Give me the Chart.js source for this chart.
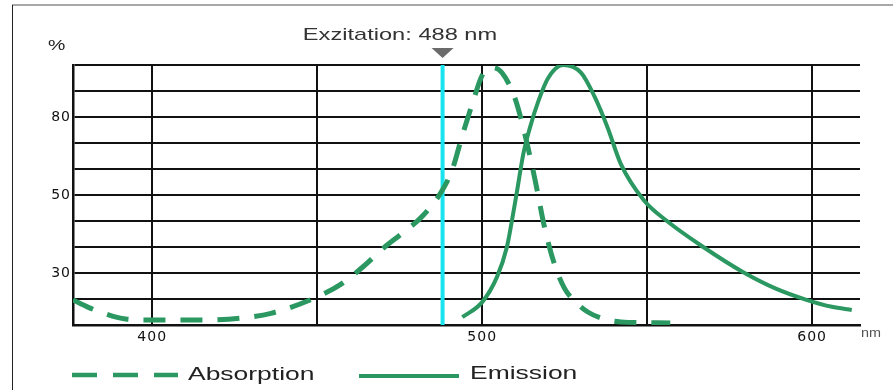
<!DOCTYPE html>
<html lang="en">
<head>
<meta charset="UTF-8">
<title>Absorption / Emission</title>
<script src="https://cdn.jsdelivr.net/npm/chart.js"></script>
<style>
    html, body { margin: 0; padding: 0; background: #fff; }
    #wrap { width: 893px; height: 390px; }
</style>
</head>
<body>
<div id="wrap"><canvas id="spectrum"></canvas></div>
<script>
    // values (nm, %)
    const absorptionNm  = [376, 383, 392, 400, 415, 427, 436, 450, 457, 464, 470, 476, 482, 488, 491, 494, 497, 500, 503, 506, 510, 513, 516, 519, 522, 525, 528, 532, 537, 542, 557];
    const absorptionPct = [9.6, 5.6, 2.3, 1.9, 1.9, 2.7, 4.5, 10.8, 15.5, 22.5, 29.5, 35.5, 42, 52, 60, 73, 85, 96, 99, 97, 87, 73, 56, 37, 23, 14, 9.2, 5, 2.3, 1.2, 0.8];
    const emissionNm    = [494, 500, 504.5, 507.5, 509, 510.5, 512.5, 514.5, 517, 520, 524.5, 530, 534, 538, 542, 549, 556, 567, 579, 589, 598.5, 606, 612];
    const emissionPct   = [3, 8.8, 18.5, 30, 40, 51, 66, 76, 86, 95, 100, 97, 88, 76, 62, 48, 40, 30, 20.4, 14, 9.6, 7, 5.8];
    const excitationNm = 488;

    const xGridValues = [400, 450, 500, 550, 600];
    const xTickLabels = [400, 500, 600];
    const yTickValues = [20, 50, 80];
    const yTickText   = ['30', '50', '80'];

    const GREEN = '#2a9860';
    const FONT = "'Liberation Sans', Arial, sans-serif";
    const TICK_FONT = "'DejaVu Sans', sans-serif";

    const toPoints = (xs, ys) => xs.map((x, i) => ({ x: x, y: ys[i] }));

    // the source picture is stretched sideways, so its text is too
    function wideText(ctx, text, x, y, align, sx) {
        ctx.save();
        ctx.translate(x, y);
        ctx.scale(sx, 1);
        ctx.textAlign = align;
        ctx.fillText(text, 0, 0);
        ctx.restore();
    }

    const decorations = {
        id: 'decorations',
        beforeDraw(chart) {
            const ctx = chart.ctx;
            ctx.save();
            ctx.fillStyle = '#fff';
            ctx.fillRect(0, 0, chart.width, chart.height);
            ctx.strokeStyle = '#a8a8a8';
            ctx.lineWidth = 2;
            ctx.beginPath();
            ctx.moveTo(12, 5);
            ctx.lineTo(chart.width, 5);
            ctx.stroke();
            ctx.strokeStyle = '#222';
            ctx.lineWidth = 1;
            ctx.beginPath();
            ctx.moveTo(12.5, 5);
            ctx.lineTo(12.5, chart.height);
            ctx.stroke();
            ctx.restore();
            ctx.letterSpacing = '1px';
        },
        afterDraw(chart) {
            const ctx = chart.ctx;
            const xs = chart.scales.x;
            const area = chart.chartArea;
            ctx.save();
            ctx.letterSpacing = '0px';
            ctx.textBaseline = 'middle';

            ctx.fillStyle = '#333';
            ctx.font = '17px ' + FONT;
            wideText(ctx, 'Exzitation: 488 nm', 400, 35, 'center', 1.39);

            const ex = xs.getPixelForValue(excitationNm);
            ctx.fillStyle = '#6b6b6b';
            ctx.beginPath();
            ctx.moveTo(ex - 11, 48);
            ctx.lineTo(ex + 11, 48);
            ctx.lineTo(ex, 58);
            ctx.closePath();
            ctx.fill();

            ctx.fillStyle = '#222';
            ctx.font = '15px ' + FONT;
            wideText(ctx, '%', 48, 46, 'left', 1.3);

            ctx.fillStyle = '#555';
            ctx.font = '12px ' + FONT;
            wideText(ctx, 'nm', area.right + 1, 334, 'left', 1.2);

            // legend
            const ly = 375;
            ctx.strokeStyle = GREEN;
            ctx.lineWidth = 4.5;
            ctx.setLineDash([25, 16]);
            ctx.beginPath();
            ctx.moveTo(72, ly);
            ctx.lineTo(178, ly);
            ctx.stroke();
            ctx.setLineDash([]);
            ctx.lineWidth = 4;
            ctx.beginPath();
            ctx.moveTo(359, ly + 1);
            ctx.lineTo(459, ly + 1);
            ctx.stroke();

            ctx.fillStyle = '#222';
            ctx.font = '18.5px ' + FONT;
            wideText(ctx, 'Absorption', 188, ly, 'left', 1.43);
            wideText(ctx, 'Emission', 470, ly - 1, 'left', 1.43);
            ctx.restore();
        }
    };

    new Chart(document.getElementById('spectrum'), {
        type: 'line',
        data: {
            datasets: [
                {
                    label: 'Absorption',
                    data: toPoints(absorptionNm, absorptionPct),
                    borderColor: GREEN,
                    borderWidth: 5,
                    borderDash: [22, 15],
                    pointRadius: 0,
                    cubicInterpolationMode: 'monotone',
                    fill: false
                },
                {
                    label: 'Emission',
                    data: toPoints(emissionNm, emissionPct),
                    borderColor: GREEN,
                    borderWidth: 4,
                    pointRadius: 0,
                    cubicInterpolationMode: 'monotone',
                    fill: false
                },
                {
                    label: 'Excitation',
                    data: [{ x: excitationNm, y: 0 }, { x: excitationNm, y: 100 }],
                    borderColor: '#18e4ef',
                    borderWidth: 4,
                    pointRadius: 0,
                    fill: false
                }
            ]
        },
        options: {
            responsive: true,
            maintainAspectRatio: false,
            animation: false,
            layout: { padding: { top: 65, right: 33, left: 0, bottom: 0 } },
            plugins: {
                legend: { display: false },
                title: { display: false },
                tooltip: { enabled: false }
            },
            scales: {
                x: {
                    type: 'linear',
                    min: 376,
                    max: 614.5,
                    afterBuildTicks: (scale) => { scale.ticks = xGridValues.map(v => ({ value: v })); },
                    afterFit: (scale) => { scale.height = 65; },
                    grid: { color: '#111', lineWidth: 2, drawTicks: false },
                    border: { display: true, color: '#111', width: 2.5 },
                    ticks: {
                        padding: 4,
                        color: '#111',
                        font: { family: TICK_FONT, size: 14 },
                        maxRotation: 0,
                        autoSkip: false,
                        callback: (v) => xTickLabels.includes(v) ? String(v) : ''
                    }
                },
                y: {
                    min: 0,
                    max: 100,
                    afterFit: (scale) => { scale.width = 73; },
                    grid: { color: '#111', lineWidth: 2, drawTicks: false },
                    border: { display: true, color: '#111', width: 2.5 },
                    ticks: {
                        stepSize: 10,
                        padding: 2,
                        color: '#111',
                        font: { family: TICK_FONT, size: 14 },
                        autoSkip: false,
                        callback: (v) => {
                            const i = yTickValues.indexOf(v);
                            return i >= 0 ? yTickText[i] : '';
                        }
                    }
                }
            }
        },
        plugins: [decorations]
    });
</script>
</body>
</html>
